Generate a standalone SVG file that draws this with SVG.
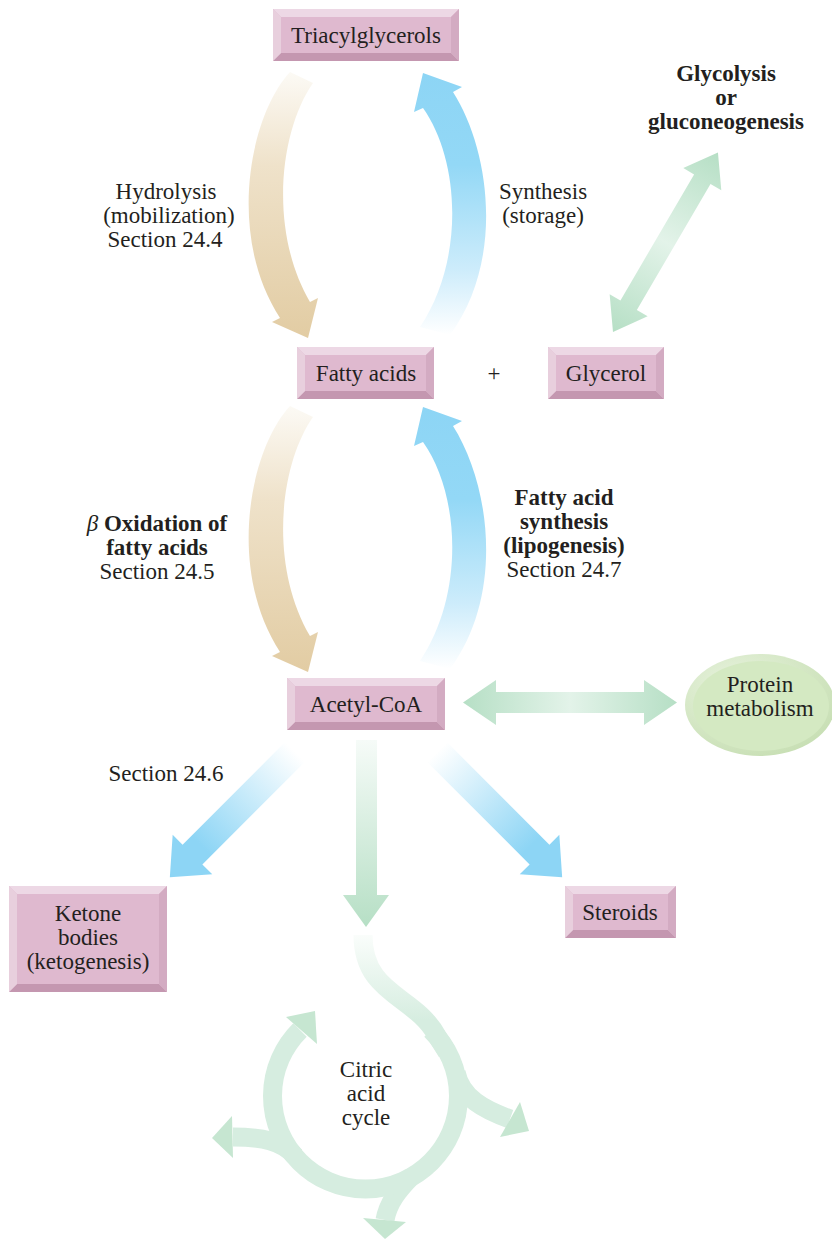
<svg xmlns="http://www.w3.org/2000/svg" width="832" height="1239" viewBox="0 0 832 1239">
  <style>
    .t { font-family: "Liberation Serif", "Times New Roman", serif; font-size: 23px; fill: #231f20; text-anchor: middle; }
    .b { font-weight: bold; }
    .bf { fill: #dfb9cf; }
    .bt { fill: #edd8e5; }
    .bl { fill: #e8cfdd; }
    .br { fill: #d3abc2; }
    .bb { fill: #c497b0; }
    .ring { fill: none; stroke: #d6ede0; stroke-width: 19; }
    .head { fill: #c6e6d1; }
  </style>
  <defs>
    <linearGradient id="tan" x1="0" y1="0" x2="0" y2="1">
      <stop offset="0" stop-color="#fcfaf5"/>
      <stop offset="0.35" stop-color="#efe2ca"/>
      <stop offset="1" stop-color="#e2cca3"/>
    </linearGradient>
    <linearGradient id="blue" x1="0" y1="0" x2="0" y2="1">
      <stop offset="0" stop-color="#8dd5f5"/>
      <stop offset="0.35" stop-color="#93d8f6"/>
      <stop offset="0.75" stop-color="#cdecfb"/>
      <stop offset="1" stop-color="#ffffff"/>
    </linearGradient>
    <linearGradient id="blueDiag" x1="0" y1="0" x2="1" y2="0">
      <stop offset="0" stop-color="#ffffff"/>
      <stop offset="0.75" stop-color="#8dd5f5"/>
      <stop offset="1" stop-color="#8dd5f5"/>
    </linearGradient>
    <linearGradient id="greenBoth" x1="0" y1="0" x2="1" y2="0">
      <stop offset="0" stop-color="#b6dfc5"/>
      <stop offset="0.5" stop-color="#e3f3e9"/>
      <stop offset="1" stop-color="#b6dfc5"/>
    </linearGradient>
    <linearGradient id="greenDown" x1="0" y1="0" x2="0" y2="1">
      <stop offset="0" stop-color="#f6fbf8"/>
      <stop offset="1" stop-color="#b6dfc5"/>
    </linearGradient>
    <linearGradient id="stemFade" gradientUnits="userSpaceOnUse" x1="0" y1="935" x2="0" y2="1020">
      <stop offset="0" stop-color="#fafdfb"/>
      <stop offset="1" stop-color="#d6ede0"/>
    </linearGradient>
    <radialGradient id="ovalRim" cx="0.35" cy="0.3" r="0.8">
      <stop offset="0" stop-color="#e8f3de"/>
      <stop offset="1" stop-color="#c6deb2"/>
    </radialGradient>
  </defs>

  <!-- connectors -->
  <g id="connectors">
    <!-- hydrolysis / synthesis pair -->
    <path fill="url(#tan)" d="M290,72 C250,115 226,235 280,318 L272,322 L308,338 L318,298 L310,302 C268,230 280,130 313,83 Z"/>
    <path fill="url(#blue)" d="M423,108 L414,112 L423,73 L462,87 L453,92 C490,150 505,260 450,335 L420,327 C465,260 460,160 423,108 Z"/>
    <!-- beta oxidation / lipogenesis pair -->
    <g transform="translate(0,334)">
      <path fill="url(#tan)" d="M290,72 C250,115 226,235 280,318 L272,322 L308,338 L318,298 L310,302 C268,230 280,130 313,83 Z"/>
      <path fill="url(#blue)" d="M423,108 L414,112 L423,73 L462,87 L453,92 C490,150 505,260 450,335 L420,327 C465,260 460,160 423,108 Z"/>
    </g>
    <!-- glycerol to glycolysis -->
    <polygon fill="url(#greenBoth)" transform="translate(613,332) rotate(-59.7)" points="0,0 31,-22 31,-9.5 177,-9.5 177,-22 208,0 177,22 177,9.5 31,9.5 31,22"/>
    <!-- acetyl-CoA to protein metabolism -->
    <polygon fill="url(#greenBoth)" points="463,702.5 496,680 496,692 644,692 644,680 677,702.5 644,725 644,713 496,713 496,725"/>
    <!-- acetyl-CoA to ketone bodies and steroids -->
    <polygon fill="url(#blueDiag)" transform="translate(295,752) rotate(135)" points="0,-14 145,-14 145,-28 177,0 145,28 145,14 0,14"/>
    <polygon fill="url(#blueDiag)" transform="translate(437,752) rotate(45)" points="0,-14 145,-14 145,-28 177,0 145,28 145,14 0,14"/>
    <!-- acetyl-CoA to citric acid cycle -->
    <polygon fill="url(#greenDown)" points="356,740 377,740 377,895 389,895 366,927 343,895 356,895"/>
  </g>

  <!-- citric acid cycle -->
  <g id="citric-cycle">
    <path class="ring" d="M295,1156 C282,1141 262,1137 233,1137"/>
    <path class="ring" d="M412,1176 C398,1190 388,1203 385,1220"/>
    <path class="ring" d="M456,1072 C461,1098 485,1110 510,1119"/>
    <path d="M363,935 C363,995 415,995 437,1036 L447,1052" fill="none" stroke="url(#stemFade)" stroke-width="19"/>
    <path class="ring" d="M431,1030 A93,93 0 1,1 300,1030"/>
    <polygon class="head" points="286,1017 315,1011 317,1044"/>
    <polygon class="head" points="520,1102 529,1131 500,1137"/>
    <polygon class="head" points="232,1116 212,1138 233,1158"/>
    <polygon class="head" points="363,1218 385,1239 406,1222"/>
    <text class="t" x="366" y="1077">Citric</text>
    <text class="t" x="366" y="1101">acid</text>
    <text class="t" x="366" y="1125">cycle</text>
  </g>

  <!-- nodes -->
  <g id="triacylglycerols">
    <rect class="bf" x="273" y="9" width="186" height="52"/>
    <polygon class="bt" points="273,9 459,9 451,17 281,17"/>
    <polygon class="bb" points="273,61 459,61 451,53 281,53"/>
    <polygon class="bl" points="273,9 281,17 281,53 273,61"/>
    <polygon class="br" points="459,9 451,17 451,53 459,61"/>
    <text class="t" x="366" y="43">Triacylglycerols</text>
  </g>

  <g id="fatty-acids">
    <rect class="bf" x="297" y="347" width="137" height="52"/>
    <polygon class="bt" points="297,347 434,347 426,355 305,355"/>
    <polygon class="bb" points="297,399 434,399 426,391 305,391"/>
    <polygon class="bl" points="297,347 305,355 305,391 297,399"/>
    <polygon class="br" points="434,347 426,355 426,391 434,399"/>
    <text class="t" x="366" y="381">Fatty acids</text>
  </g>

  <text class="t" x="494" y="381">+</text>

  <g id="glycerol">
    <rect class="bf" x="548" y="347" width="116" height="52"/>
    <polygon class="bt" points="548,347 664,347 656,355 556,355"/>
    <polygon class="bb" points="548,399 664,399 656,391 556,391"/>
    <polygon class="bl" points="548,347 556,355 556,391 548,399"/>
    <polygon class="br" points="664,347 656,355 656,391 664,399"/>
    <text class="t" x="606" y="381">Glycerol</text>
  </g>

  <g id="acetyl-coa">
    <rect class="bf" x="287" y="678" width="158" height="52"/>
    <polygon class="bt" points="287,678 445,678 437,686 295,686"/>
    <polygon class="bb" points="287,730 445,730 437,722 295,722"/>
    <polygon class="bl" points="287,678 295,686 295,722 287,730"/>
    <polygon class="br" points="445,678 437,686 437,722 445,730"/>
    <text class="t" x="366" y="712">Acetyl-CoA</text>
  </g>

  <g id="ketone-bodies">
    <rect class="bf" x="9" y="886" width="158" height="106"/>
    <polygon class="bt" points="9,886 167,886 159,894 17,894"/>
    <polygon class="bb" points="9,992 167,992 159,984 17,984"/>
    <polygon class="bl" points="9,886 17,894 17,984 9,992"/>
    <polygon class="br" points="167,886 159,894 159,984 167,992"/>
    <text class="t" x="88" y="921">Ketone</text>
    <text class="t" x="88" y="945">bodies</text>
    <text class="t" x="88" y="969">(ketogenesis)</text>
  </g>

  <g id="steroids">
    <rect class="bf" x="565" y="886" width="111" height="52"/>
    <polygon class="bt" points="565,886 676,886 668,894 573,894"/>
    <polygon class="bb" points="565,938 676,938 668,930 573,930"/>
    <polygon class="bl" points="565,886 573,894 573,930 565,938"/>
    <polygon class="br" points="676,886 668,894 668,930 676,938"/>
    <text class="t" x="620" y="920">Steroids</text>
  </g>

  <g id="protein-metabolism">
    <ellipse cx="760" cy="705" rx="75" ry="51" fill="url(#ovalRim)"/>
    <ellipse cx="761" cy="706" rx="68" ry="45" fill="#d4e9c2"/>
    <text class="t" x="760" y="692">Protein</text>
    <text class="t" x="760" y="716">metabolism</text>
  </g>

  <!-- pathway labels -->
  <g id="labels">
    <text class="t" x="166" y="199">Hydrolysis</text>
    <text class="t" x="169" y="223">(mobilization)</text>
    <text class="t" x="165" y="247">Section 24.4</text>
    <text class="t" x="543" y="199">Synthesis</text>
    <text class="t" x="543" y="223">(storage)</text>
    <text class="t b" x="726" y="81">Glycolysis</text>
    <text class="t b" x="726" y="105">or</text>
    <text class="t b" x="726" y="129">gluconeogenesis</text>
    <text class="t b" x="157" y="531"><tspan font-style="italic" font-weight="normal">β</tspan> Oxidation of</text>
    <text class="t b" x="157" y="555">fatty acids</text>
    <text class="t" x="157" y="579">Section 24.5</text>
    <text class="t b" x="564" y="505">Fatty acid</text>
    <text class="t b" x="564" y="529">synthesis</text>
    <text class="t b" x="564" y="553">(lipogenesis)</text>
    <text class="t" x="564" y="577">Section 24.7</text>
    <text class="t" x="166" y="781">Section 24.6</text>
  </g>
</svg>
